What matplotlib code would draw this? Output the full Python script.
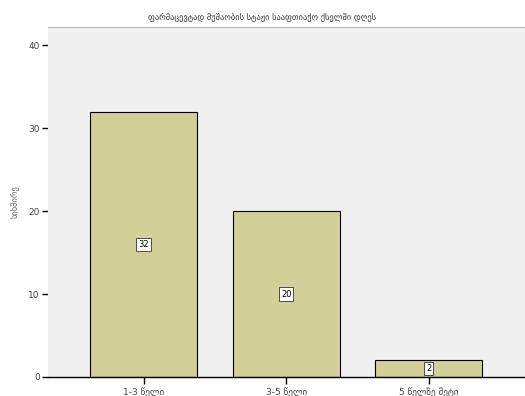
import matplotlib
matplotlib.use("Agg")
import matplotlib.pyplot as plt

# Chart data
categories = ["1-3 წელი", "3-5 წელი", "5 წელზე მეტი"]
counts = [32, 20, 2]
y_ticks = [0, 10, 20, 30, 40]

TITLE = "ფარმაცევტად მუშაობის სტაჟი სააფთიაქო ქსელში დღეს"
Y_LABEL = "სიხშირე"

BAR_COLOR = "#d3cf98"
PLOT_BG = "#f0f0f0"

plt.rcParams["font.family"] = ["DejaVu Sans"]

fig = plt.figure(figsize=(5.25, 3.96), dpi=100)
ax = fig.add_axes([0.0914, 0.048, 0.91, 0.884])
ax.set_facecolor(PLOT_BG)

x = list(range(len(categories)))
bars = ax.bar(x, counts, width=0.75, color=BAR_COLOR, edgecolor="black", linewidth=0.8)

# value labels in the middle of each bar
for xi, c in zip(x, counts):
    ax.text(xi, c / 2, str(c), ha="center", va="center", fontsize=6,
            bbox=dict(boxstyle="square,pad=0.25", facecolor="white",
                      edgecolor="#333333", linewidth=0.6))

ax.set_xlim(-0.67, 2.68)
ax.set_ylim(0, 42.2)
ax.set_xticks(x)
ax.set_xticklabels(categories, fontsize=6.5, color="#444444")
ax.set_yticks(y_ticks)
ax.set_yticklabels([str(t) for t in y_ticks], fontsize=6.5, color="#444444")
ax.tick_params(axis="x", length=5, width=1, pad=2)
ax.tick_params(axis="y", length=4, width=1, pad=2)

ax.spines["right"].set_visible(False)
ax.spines["top"].set_color("#b8b8b8")
ax.spines["left"].set_color(PLOT_BG)
ax.spines["bottom"].set_linewidth(1)

ax.set_ylabel(Y_LABEL, fontsize=6, color="#666666", labelpad=6)
fig.text(0.5, 0.955, TITLE, ha="center", va="center", fontsize=6, color="#333333")

fig.savefig("out.png", dpi=100, facecolor="white")
